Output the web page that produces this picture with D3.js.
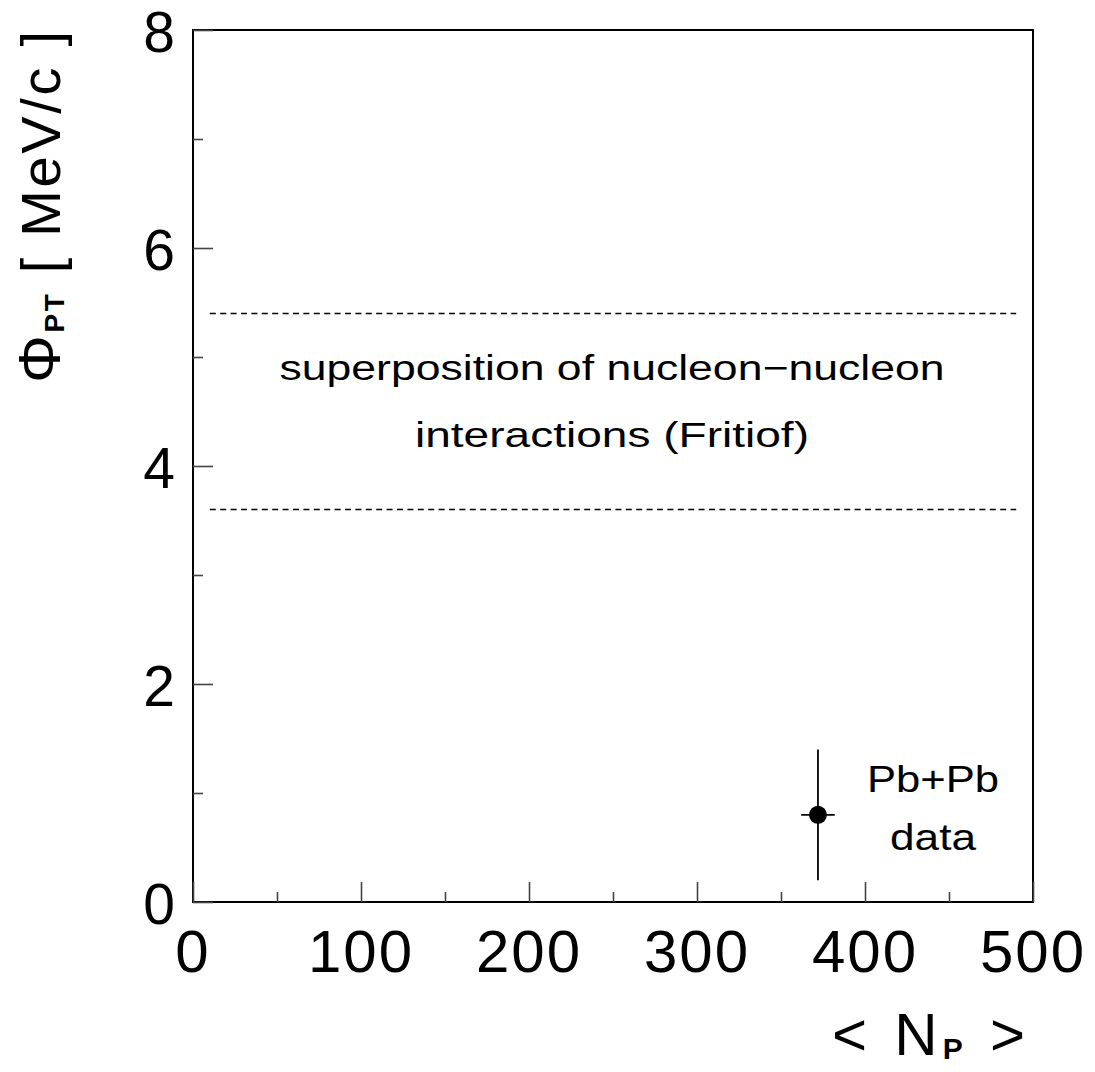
<!DOCTYPE html>
<html>
<head>
<meta charset="utf-8">
<script src="https://cdn.jsdelivr.net/npm/d3@7"></script>
<style>
  html, body { margin: 0; padding: 0; background: #fff; }
  svg { display: block; }
  text { font-family: "Liberation Sans", Arial, sans-serif; fill: #000; }
</style>
</head>
<body>
<svg id="chart" width="1095" height="1072"></svg>
<script>
// ---- data ----
const xDomain = [0, 500];
const yDomain = [0, 8];
const xMajorTicks = [0, 100, 200, 300, 400, 500];
const xMinorTicks = [50, 150, 250, 350, 450];
const yMajorTicks = [0, 2, 4, 6, 8];
const yMinorTicks = [1, 3, 5, 7];
const bandLevels = [3.6, 5.4];          // Fritiof band (dashed lines)
const bandXRange = [10, 490];
const pointX = [372];
const pointY = [0.8];
const pointErrX = [10];
const pointErrY = [0.6];
const bandLabelLines = ["superposition of nucleon\u2212nucleon", "interactions (Fritiof)"];
const dataLabelLines = ["Pb+Pb", "data"];

// ---- layout ----
const svg = d3.select("#chart");
const plotL = 193, plotR = 1033, plotT = 30, plotB = 902;
const x = d3.scaleLinear().domain(xDomain).range([plotL, plotR]);
const y = d3.scaleLinear().domain(yDomain).range([plotB, plotT]);

// frame
svg.append("rect")
  .attr("x", plotL).attr("y", plotT)
  .attr("width", plotR - plotL).attr("height", plotB - plotT)
  .attr("fill", "none").attr("stroke", "#000").attr("stroke-width", 2);

// y axis ticks (inward)
const yAxisMajor = d3.axisRight(y).tickValues(yMajorTicks).tickSize(20).tickFormat("");
const yAxisMinor = d3.axisRight(y).tickValues(yMinorTicks).tickSize(10).tickFormat("");
[yAxisMajor, yAxisMinor].forEach(ax => {
  const g = svg.append("g").attr("transform", `translate(${plotL},0)`).call(ax);
  g.select(".domain").remove();
  g.selectAll("line").attr("stroke", "#444").attr("stroke-width", 1.6);
});
// y tick labels
svg.append("g").selectAll("text").data(yMajorTicks).join("text")
  .attr("x", 175).attr("y", d => y(d))
  .attr("dy", "0.38em")
  .attr("text-anchor", "end")
  .attr("font-size", 57)
  .text(d => d);

// x axis ticks (inward)
const xAxisMajor = d3.axisTop(x).tickValues(xMajorTicks).tickSize(20).tickFormat("");
const xAxisMinor = d3.axisTop(x).tickValues(xMinorTicks).tickSize(10).tickFormat("");
[xAxisMajor, xAxisMinor].forEach(ax => {
  const g = svg.append("g").attr("transform", `translate(0,${plotB})`).call(ax);
  g.select(".domain").remove();
  g.selectAll("line").attr("stroke", "#444").attr("stroke-width", 1.6);
});
svg.append("g").selectAll("text").data(xMajorTicks).join("text")
  .attr("x", d => x(d)).attr("y", 972)
  .attr("text-anchor", "middle")
  .attr("font-size", 60)
  .attr("letter-spacing", 2)
  .text(d => d);

// dashed band lines
svg.append("g").selectAll("line").data(bandLevels).join("line")
  .attr("x1", x(bandXRange[0])).attr("x2", x(bandXRange[1]))
  .attr("y1", d => y(d)).attr("y2", d => y(d))
  .attr("stroke", "#000").attr("stroke-width", 1.5)
  .attr("stroke-dasharray", "6,4.4");

// band label
svg.append("text")
  .attr("x", 612).attr("y", 380)
  .attr("text-anchor", "middle").attr("font-size", 35)
  .attr("textLength", 665).attr("lengthAdjust", "spacingAndGlyphs")
  .text(bandLabelLines[0]);
svg.append("text")
  .attr("x", 612).attr("y", 447)
  .attr("text-anchor", "middle").attr("font-size", 35)
  .attr("textLength", 394).attr("lengthAdjust", "spacingAndGlyphs")
  .text(bandLabelLines[1]);

// data point with error bars
const pts = pointX.map((v, i) => ({x: v, y: pointY[i], ex: pointErrX[i], ey: pointErrY[i]}));
const pg = svg.append("g");
pg.selectAll("line.ey").data(pts).join("line").attr("class", "ey")
  .attr("x1", d => x(d.x)).attr("x2", d => x(d.x))
  .attr("y1", d => y(d.y - d.ey)).attr("y2", d => y(d.y + d.ey))
  .attr("stroke", "#000").attr("stroke-width", 1.8);
pg.selectAll("line.ex").data(pts).join("line").attr("class", "ex")
  .attr("x1", d => x(d.x - d.ex)).attr("x2", d => x(d.x + d.ex))
  .attr("y1", d => y(d.y)).attr("y2", d => y(d.y))
  .attr("stroke", "#000").attr("stroke-width", 1.8);
pg.selectAll("circle").data(pts).join("circle")
  .attr("cx", d => x(d.x)).attr("cy", d => y(d.y)).attr("r", 9)
  .attr("fill", "#000");

// data label
svg.append("text").attr("x", 933).attr("y", 792)
  .attr("text-anchor", "middle").attr("font-size", 36)
  .attr("textLength", 132).attr("lengthAdjust", "spacingAndGlyphs")
  .text(dataLabelLines[0]);
svg.append("text").attr("x", 933).attr("y", 850)
  .attr("text-anchor", "middle").attr("font-size", 36)
  .attr("textLength", 86).attr("lengthAdjust", "spacingAndGlyphs")
  .text(dataLabelLines[1]);

// y axis title
const yt = svg.append("text")
  .attr("transform", "translate(60,207) rotate(-90)")
  .attr("text-anchor", "middle").attr("font-size", 56)
  .attr("textLength", 352).attr("lengthAdjust", "spacing");
yt.append("tspan").attr("font-size", 60).text("\u03A6");
yt.append("tspan").attr("font-size", 28).attr("font-weight", "bold").attr("dy", 4).text("PT");
yt.append("tspan").attr("dy", -4).text(" [ MeV/c ]");

// x axis title
const xt = svg.append("text")
  .attr("x", 1025).attr("y", 1055)
  .attr("text-anchor", "end").attr("font-size", 60)
  .attr("textLength", 193).attr("lengthAdjust", "spacing");
xt.append("tspan").text("< N");
xt.append("tspan").attr("font-size", 30).attr("font-weight", "bold").attr("dy", 4).text("P");
xt.append("tspan").attr("dy", -4).text(" >");
</script>
</body>
</html>
